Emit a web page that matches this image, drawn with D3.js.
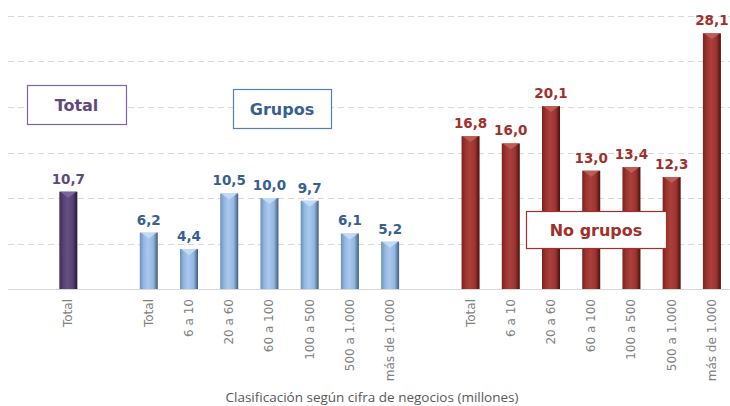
<!DOCTYPE html>
<html lang="es">
<head>
<meta charset="utf-8" />
<title>Clasificación según cifra de negocios</title>
<script src="https://cdn.jsdelivr.net/npm/d3@7"></script>
<style>
  body { margin: 0; background: #fff; overflow: hidden; }
  svg { display: block; }
</style>
</head>
<body>
<div id="chart"></div>
<script>
// values
var sizeLabels = ["Total", "6 a 10", "20 a 60", "60 a 100", "100 a 500", "500 a 1.000", "más de 1.000"];
var totalValue = [10.7];
var gruposValues = [6.2, 4.4, 10.5, 10.0, 9.7, 6.1, 5.2];
var noGruposValues = [16.8, 16.0, 20.1, 13.0, 13.4, 12.3, 28.1];
var yTicks = [5, 10, 15, 20, 25, 30];

var width = 730, height = 406;

// one slot per category, with empty slots between the three groups
var slots = [{label: "", value: null}];
slots.push({label: "Total", value: totalValue[0], group: "total"});
slots.push({label: "", value: null});
gruposValues.forEach(function(v, i) { slots.push({label: sizeLabels[i], value: v, group: "grupos"}); });
slots.push({label: "", value: null});
noGruposValues.forEach(function(v, i) { slots.push({label: sizeLabels[i], value: v, group: "nogrupos"}); });
slots.forEach(function(d, i) { d.i = i; });

var colors = {
  total:    {edgeL: "#3e2c55", mid: "#574273", light: "#654f82", edgeR: "#22172f", top: "#7d68a0", text: "#5f497a", box: "#8064a2"},
  grupos:   {edgeL: "#6e8fb8", mid: "#95b7df", light: "#a9c9ee", edgeR: "#3f5c80", top: "#c4ddf5", text: "#376092", box: "#4f81bd"},
  nogrupos: {edgeL: "#7a221f", mid: "#9c3430", light: "#aa403b", edgeR: "#4a100e", top: "#c0605a", text: "#a0302c", box: "#a0302c"}
};

var svg = d3.select("#chart").append("svg")
  .attr("width", width)
  .attr("height", height);

var x = d3.scaleBand()
  .domain(slots.map(function(d) { return d.i; }))
  .range([8, 732]);

var y = d3.scaleLinear()
  .domain([0, 30])
  .range([289, 16]);

// gradients for the rounded look of the bars
var defs = svg.append("defs");
Object.keys(colors).forEach(function(k) {
  var c = colors[k];
  var g = defs.append("linearGradient").attr("id", "grad-" + k)
    .attr("x1", "0%").attr("x2", "100%").attr("y1", "0%").attr("y2", "0%");
  g.append("stop").attr("offset", "0%").attr("stop-color", c.edgeL);
  g.append("stop").attr("offset", "22%").attr("stop-color", c.mid);
  g.append("stop").attr("offset", "45%").attr("stop-color", c.light);
  g.append("stop").attr("offset", "75%").attr("stop-color", c.mid);
  g.append("stop").attr("offset", "100%").attr("stop-color", c.edgeR);
});

// dashed gridlines
svg.append("g")
  .selectAll("line")
  .data(yTicks)
  .enter().append("line")
    .attr("x1", 8).attr("x2", width)
    .attr("y1", function(d) { return Math.round(y(d)) + 0.5; })
    .attr("y2", function(d) { return Math.round(y(d)) + 0.5; })
    .attr("stroke", "#d9d9d9")
    .attr("stroke-dasharray", "6,4");

var barW = 18;
var bars = slots.filter(function(d) { return d.value !== null; });

var barG = svg.append("g");
barG.selectAll("rect")
  .data(bars)
  .enter().append("rect")
    .attr("x", function(d) { return x(d.i) + x.bandwidth() / 2 - barW / 2; })
    .attr("y", function(d) { return y(d.value); })
    .attr("width", barW)
    .attr("height", function(d) { return y(0) - y(d.value); })
    .attr("fill", function(d) { return "url(#grad-" + d.group + ")"; });

// small bevel at the top of each bar
barG.selectAll("path")
  .data(bars)
  .enter().append("path")
    .attr("d", function(d) {
      var cx = x(d.i) + x.bandwidth() / 2, t = y(d.value);
      return "M" + (cx - barW / 2 + 1) + "," + t + "L" + (cx + barW / 2 - 1) + "," + t + "L" + cx + "," + (t + 6) + "Z";
    })
    .attr("fill", function(d) { return colors[d.group].top; })
    .attr("opacity", 0.9);

// axis baseline
svg.append("line")
  .attr("x1", 8).attr("x2", width)
  .attr("y1", 289.5).attr("y2", 289.5)
  .attr("stroke", "#d9d9d9");

// value labels
var fmt = d3.format(".1f");
svg.append("g")
  .selectAll("text")
  .data(bars)
  .enter().append("text")
    .attr("x", function(d) { return x(d.i) + x.bandwidth() / 2; })
    .attr("y", function(d) { return y(d.value) - 8; })
    .attr("text-anchor", "middle")
    .attr("font-family", "DejaVu Sans, sans-serif")
    .attr("font-weight", "bold")
    .attr("font-size", 13.5)
    .attr("fill", function(d) { return colors[d.group].text; })
    .text(function(d) { return fmt(d.value).replace(".", ","); });

// category labels, rotated
svg.append("g")
  .selectAll("text")
  .data(slots.filter(function(d) { return d.label !== ""; }))
  .enter().append("text")
    .attr("transform", function(d) {
      return "translate(" + (x(d.i) + x.bandwidth() / 2 + 4) + ",299) rotate(-90)";
    })
    .attr("text-anchor", "end")
    .attr("font-family", "DejaVu Sans, sans-serif")
    .attr("font-size", 12)
    .attr("fill", "#808080")
    .text(function(d) { return d.label; });

// axis title
svg.append("text")
  .attr("x", 372)
  .attr("y", 402)
  .attr("text-anchor", "middle")
  .attr("font-family", "Open Sans, sans-serif")
  .attr("font-size", 13.5)
  .attr("fill", "#595959")
  .text("Clasificación según cifra de negocios (millones)");

// group boxes
var boxes = [
  {text: "Total", group: "total", x: 27, y: 85, w: 99, h: 39},
  {text: "Grupos", group: "grupos", x: 233, y: 89, w: 98, h: 39},
  {text: "No grupos", group: "nogrupos", x: 526, y: 211, w: 140, h: 37}
];
var boxG = svg.append("g").selectAll("g").data(boxes).enter().append("g");
boxG.append("rect")
  .attr("x", function(d) { return d.x + 0.5; })
  .attr("y", function(d) { return d.y + 0.5; })
  .attr("width", function(d) { return d.w; })
  .attr("height", function(d) { return d.h; })
  .attr("fill", "#fff")
  .attr("stroke", function(d) { return colors[d.group].box; })
  .attr("stroke-width", 1.2);
boxG.append("text")
  .attr("x", function(d) { return d.x + d.w / 2; })
  .attr("y", function(d) { return d.y + d.h / 2 + 6; })
  .attr("text-anchor", "middle")
  .attr("font-family", "DejaVu Sans, sans-serif")
  .attr("font-weight", "bold")
  .attr("font-size", 16)
  .attr("fill", function(d) { return colors[d.group].text; })
  .text(function(d) { return d.text; });
</script>
</body>
</html>
